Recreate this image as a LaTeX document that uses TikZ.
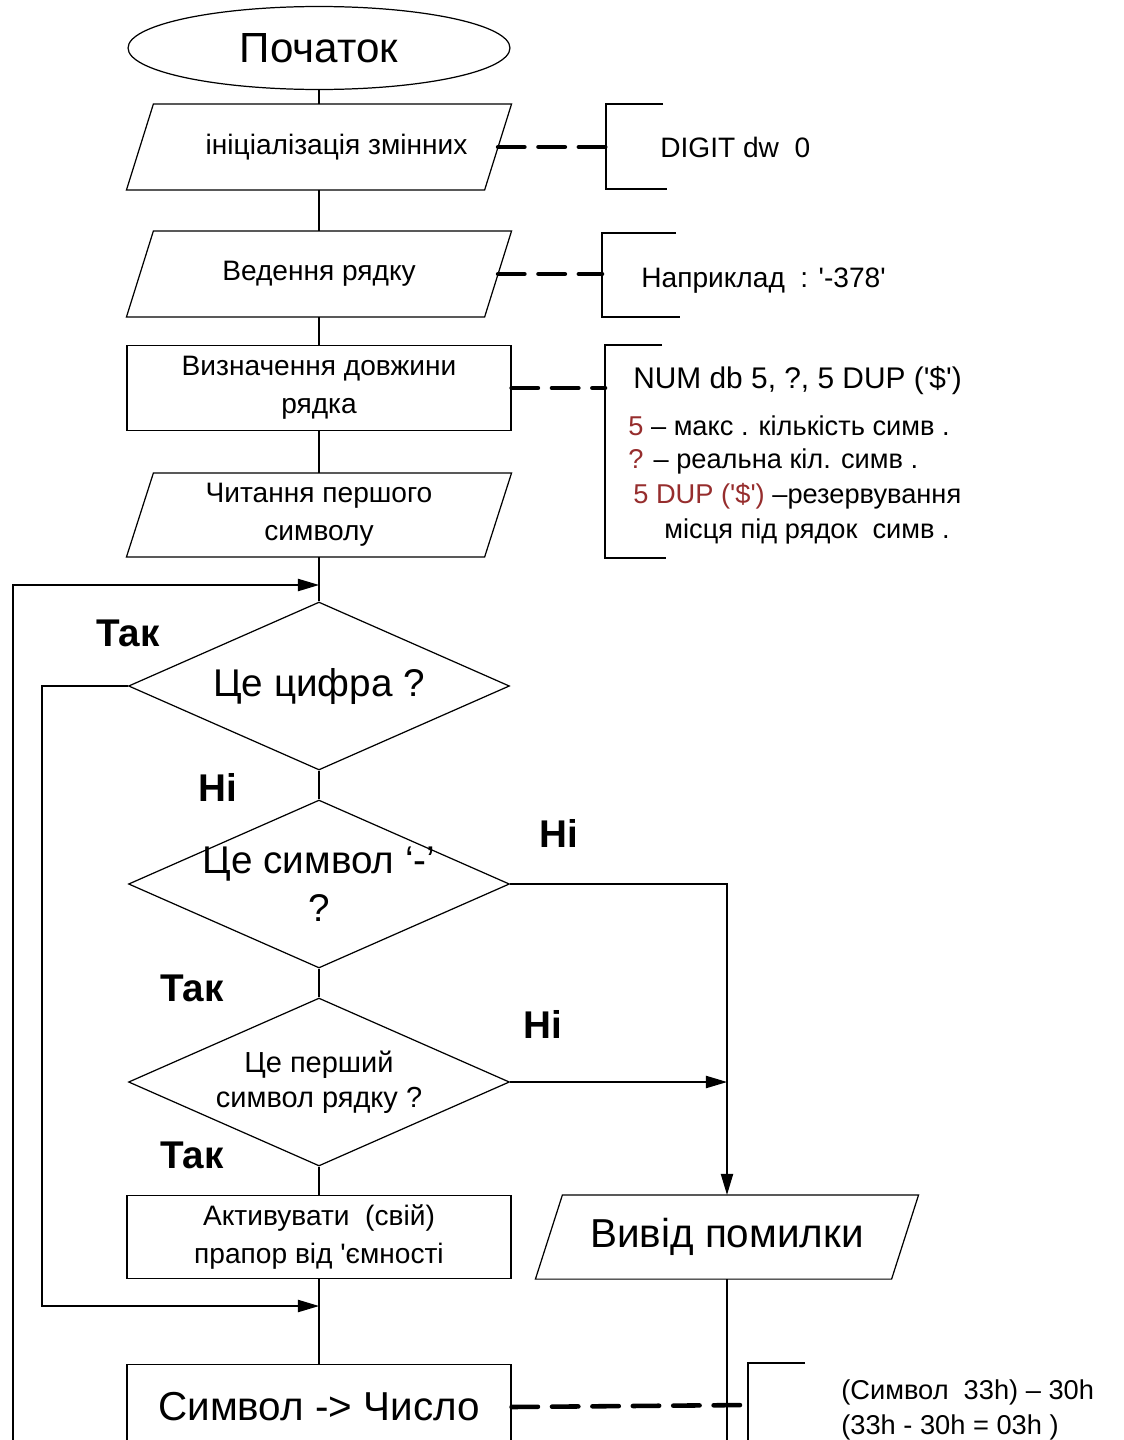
\documentclass[tikz,border=0pt]{standalone}
\usepackage{fontspec}
\setmainfont{Liberation Sans}[Ligatures=TeXOff]
\usetikzlibrary{shapes.geometric,arrows.meta}
\definecolor{darkred}{RGB}{150,45,45}

\newcommand{\zw}[1]{\makebox[0pt]{#1}}
\newcommand{\fs}[1]{\fontsize{#1}{1.2\dimexpr#1pt\relax}\selectfont}

\tikzset{
  blk/.style={draw, line width=0.7pt, minimum width=7.68cm, minimum height=1.7cm,
    inner sep=0pt, align=center, font=\fontsize{16}{21.5}\selectfont},
  io/.style={blk, draw=none, minimum width=7.14cm},
  dec/.style={draw, diamond, line width=0.7pt, minimum width=7.62cm, minimum height=3.36cm,
    inner sep=0pt, align=center},
  flow/.style={line width=0.7pt},
  flowarr/.style={flow, -{Triangle[length=12pt,width=7pt]}},
  note/.style={line width=2.6pt, dash pattern=on 15pt off 8pt, line cap=round},
  brk/.style={line width=1.5pt},
  yesno/.style={font=\fontsize{22}{26}\selectfont\bfseries},
  big/.style={font=\fontsize{23}{27}\selectfont},
  txt/.style={anchor=west, inner sep=0pt},
}

\begin{document}
\begin{tikzpicture}[x=0.02cm, y=-0.02cm]
% pixel grid: 1123 x 1440, y grows downwards
\useasboundingbox (0,0) rectangle (1123,1440);
\clip (0,0) rectangle (1123,1440);

% ---- main column (x = 319) ----
\node[draw, ellipse, line width=0.7pt, minimum width=7.64cm, minimum height=1.66cm, font=\fontsize{24}{28}\selectfont] (start) at (319,48) {Початок};
\node[io] (init) at (319,147) {\hspace*{20pt}ініціалізація змінних};
\node[io] (input) at (319,274) {Ведення рядку};
\node[blk] (len) at (319,388) {Визначення довжини\\рядка};
\node[io, minimum height=1.66cm] (read) at (319,515) {Читання першого\\символу};
\node[dec, font=\fontsize{22}{27}\selectfont] (isdigit) at (319,686) {\zw{Це цифра ?}};
\node[dec, font=\fontsize{22}{27}\selectfont] (isminus) at (319,884) {\zw{Це символ ‘-’}\\\zw{?}};
\node[dec, font=\fontsize{16.5}{20}\selectfont] (isfirst) at (319,1082) {\zw{Це перший}\\\zw{символ рядку ?}};
\node[blk, minimum height=1.66cm] (flag) at (319,1237) {Активувати\ \ (свій)\\прапор від 'ємності};
\node[blk, big] (conv) at (319,1407) {Символ -> Число};
\node[io, big, minimum height=1.66cm, minimum width=7.1cm] (err) at (727,1237) {Вивід помилки};

% ---- slanted frames of the input / output blocks ----
\foreach \n in {init,input,read,err}{
  \draw[flow] ([xshift=0.27cm]\n.north west) -- ([xshift=0.27cm]\n.north east)
    -- ([xshift=-0.27cm]\n.south east) -- ([xshift=-0.27cm]\n.south west) -- cycle;
}

% ---- yes / no ----
\node[yesno] (yes1) at (128,633) {Так};
\node[yesno] (no1) at (218,787) {Ні};
\node[yesno] (no2) at (559,833) {Ні};
\node[yesno] (yes2) at (192,988) {Так};
\node[yesno] (no3) at (543,1024) {Ні};
\node[yesno] (yes3) at (192,1155) {Так};

% ---- connectors ----
\coordinate (join1) at (319,585);
\coordinate (join2) at (319,1306);
\coordinate (loopin) at (13,1440);
\coordinate (join3) at (err.north |- isfirst.east);
\coordinate (errout) at (err.south |- loopin);
\draw[flow] (start.south) -- (init.north);
\draw[flow] (init.south) -- (input.north);
\draw[flow] (input.south) -- (len.north);
\draw[flow] (len.south) -- (read.north);
\draw[flow] (read.south) -- (isdigit.north);
\draw[flow] (isdigit.south) -- (isminus.north);
\draw[flow] (isminus.south) -- (isfirst.north);
\draw[flow] (isfirst.south) -- (flag.north);
\draw[flow] (flag.south) -- (conv.north);
\draw[flowarr] (loopin) |- (join1);
\draw[flowarr] (isdigit.west) -- ++(-86,0) |- (join2);
\draw[flowarr] (isminus.east) -| (err.north);
\draw[flowarr] (isfirst.east) -- (join3);
\draw[flow] (err.south) -- (errout);

% ---- comments (brackets + dashed links) ----
\coordinate (b1) at (606,147);
\draw[brk] (663,104) -- (606,104) -- (606,189) -- (667,189);
\draw[note] (init.east) -- (b1);
\node[txt, font=\fs{16}] (n1) at (660,147) {DIGIT dw\ \ 0};

\coordinate (b2) at (602,274);
\draw[brk] (676,233) -- (602,233) -- (602,317) -- (680,317);
\draw[note] (input.east) -- (b2);
\node[txt, font=\fs{16}] (n2) at (641,281) {Наприклад\ \ : '-378'};

\coordinate (b3) at (605,388);
\draw[brk] (662,345) -- (605,345) -- (605,558) -- (666,558);
\draw[note] (len.east) -- (b3);
\node[txt, font=\fs{17}] (n3a) at (633,381) {NUM db 5, ?, 5 DUP ('\$')};
\node[txt, font=\fs{15.5}] (n3b) at (628,426) {\textcolor{darkred}{5} – макс . кількість симв .};
\node[txt, font=\fs{15.5}] (n3c) at (628,461) {\textcolor{darkred}{?} – реальна кіл. симв .};
\node[txt, font=\fs{15.5}] (n3d) at (633,496) {\textcolor{darkred}{5 DUP ('\$')} –резервування};
\node[txt, font=\fs{15.5}] (n3e) at (664,531) {місця під рядок\ \ симв .};

\coordinate (b4) at (748,1405);
\draw[brk] (805,1363) -- (748,1363) -- (748,1460);
\draw[note] (conv.east) -- (b4);
\node[txt, font=\fs{15.5}] (n4a) at (841,1392) {(Символ\ \ 33h) – 30h};
\node[txt, font=\fs{15.5}] (n4b) at (841,1427) {(33h - 30h = 03h )};
\end{tikzpicture}
\end{document}
